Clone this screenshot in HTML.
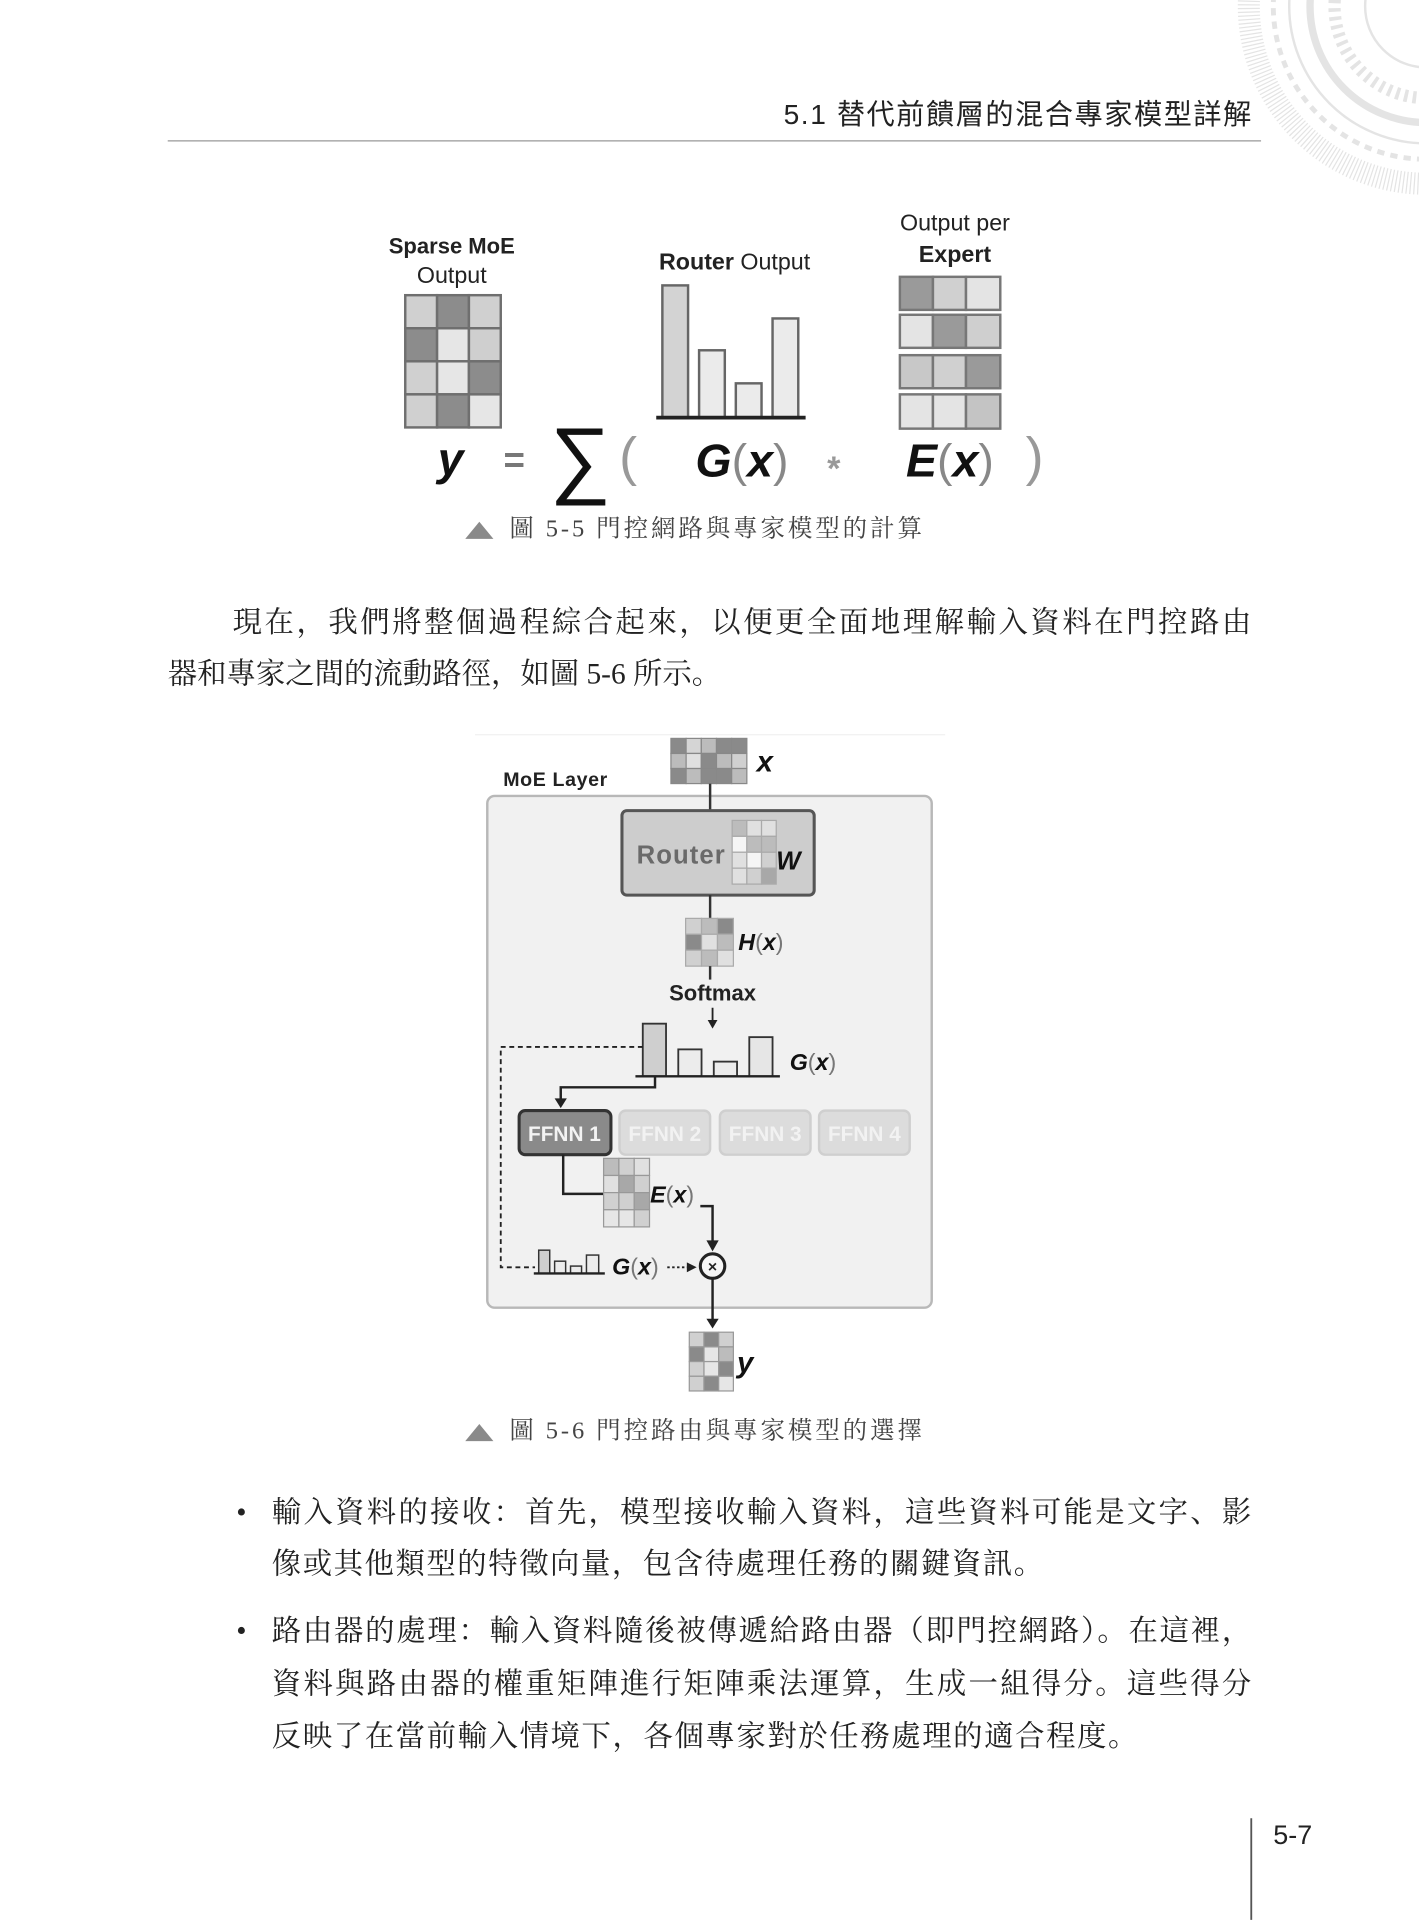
<!DOCTYPE html>
<html><head><meta charset="utf-8"><style>
html,body{margin:0;padding:0;background:#fff;width:1419px;height:1920px;overflow:hidden}
svg{display:block}
.cj{font-family:"Liberation Serif","Noto Serif CJK SC","Noto Sans CJK TC",serif;fill:#222}
.hd{font-family:"Liberation Sans","Noto Sans CJK TC",sans-serif;fill:#222}
.s{font-family:"Liberation Sans",sans-serif}
</style></head><body>
<svg width="1419" height="1920" viewBox="0 0 1159 1568" xmlns="http://www.w3.org/2000/svg">
<g fill="none" stroke="#e4e4e4">
<circle cx="1165" cy="5" r="50" stroke-width="2"/>
<circle cx="1165" cy="5" r="75" stroke-width="10" stroke-dasharray="3 4"/>
<circle cx="1165" cy="5" r="95" stroke-width="6"/>
<circle cx="1165" cy="5" r="112" stroke-width="2"/>
<circle cx="1165" cy="5" r="125" stroke-width="4" stroke-dasharray="6 5"/>
<circle cx="1165" cy="5" r="145" stroke-width="18" stroke-dasharray="1 2"/>
</g>
<text class="hd" x="640" y="101" font-size="23" textLength="382">5.1  替代前饋層的混合專家模型詳解</text>
<line x1="137" y1="115" x2="1030" y2="115" stroke="#999" stroke-width="1"/>

<g class="s" fill="#222">
<text x="369" y="207" font-size="18" font-weight="bold" text-anchor="middle">Sparse MoE</text>
<text x="369" y="231" font-size="19" text-anchor="middle">Output</text>
<text x="600" y="220" font-size="19" text-anchor="middle"><tspan font-weight="bold">Router</tspan> Output</text>
<text x="780" y="188" font-size="19" text-anchor="middle">Output per</text>
<text x="780" y="214" font-size="19" font-weight="bold" text-anchor="middle">Expert</text>
</g>
<g stroke="#6f6f6f" stroke-width="2">
<rect x="331" y="241" width="26" height="27" fill="#d0d0d0"/><rect x="357" y="241" width="26" height="27" fill="#8c8c8c"/><rect x="383" y="241" width="26" height="27" fill="#d0d0d0"/>
<rect x="331" y="268" width="26" height="27" fill="#8c8c8c"/><rect x="357" y="268" width="26" height="27" fill="#e6e6e6"/><rect x="383" y="268" width="26" height="27" fill="#cfcfcf"/>
<rect x="331" y="295" width="26" height="27" fill="#d0d0d0"/><rect x="357" y="295" width="26" height="27" fill="#e6e6e6"/><rect x="383" y="295" width="26" height="27" fill="#8c8c8c"/>
<rect x="331" y="322" width="26" height="27" fill="#d0d0d0"/><rect x="357" y="322" width="26" height="27" fill="#8c8c8c"/><rect x="383" y="322" width="26" height="27" fill="#e6e6e6"/>
</g>
<g stroke="#666" stroke-width="2">
<rect x="541" y="233" width="21" height="108" fill="#d3d3d3"/>
<rect x="571" y="286" width="21" height="55" fill="#ebebeb"/>
<rect x="601" y="313" width="21" height="28" fill="#ebebeb"/>
<rect x="631" y="260" width="21" height="81" fill="#ebebeb"/>
</g>
<line x1="536" y1="341" x2="658" y2="341" stroke="#222" stroke-width="3"/>
<g stroke="#777" stroke-width="2">
<rect x="735" y="226" width="27" height="27" fill="#9a9a9a"/><rect x="762" y="226" width="27" height="27" fill="#d0d0d0"/><rect x="789" y="226" width="28" height="27" fill="#e4e4e4"/>
<rect x="735" y="257" width="27" height="27" fill="#e4e4e4"/><rect x="762" y="257" width="27" height="27" fill="#9a9a9a"/><rect x="789" y="257" width="28" height="27" fill="#cfcfcf"/>
<rect x="735" y="290" width="27" height="27" fill="#c8c8c8"/><rect x="762" y="290" width="27" height="27" fill="#d0d0d0"/><rect x="789" y="290" width="28" height="27" fill="#9a9a9a"/>
<rect x="735" y="322" width="27" height="28" fill="#e4e4e4"/><rect x="762" y="322" width="27" height="28" fill="#e4e4e4"/><rect x="789" y="322" width="28" height="28" fill="#c4c4c4"/>
</g>
<g class="s" font-weight="bold" font-style="italic" fill="#111">
<text x="368" y="388" font-size="38" text-anchor="middle">y</text>
<text x="420" y="386" font-size="30" fill="#777" text-anchor="middle" font-style="normal">=</text>
<text x="474" y="398" font-size="70" font-weight="normal" font-style="normal" text-anchor="middle">∑</text>
<text x="513" y="388" font-size="44" font-weight="normal" font-style="normal" fill="#999" text-anchor="middle">(</text>
<text x="568" y="389" font-size="38">G<tspan font-weight="normal" font-style="normal" fill="#888">(</tspan>x<tspan font-weight="normal" font-style="normal" fill="#888">)</tspan></text>
<text x="681" y="392" font-size="28" fill="#999" font-style="normal" text-anchor="middle">*</text>
<text x="740" y="389" font-size="38">E<tspan font-weight="normal" font-style="normal" fill="#888">(</tspan>x<tspan font-weight="normal" font-style="normal" fill="#888">)</tspan></text>
<text x="845" y="388" font-size="44" font-weight="normal" font-style="normal" fill="#999" text-anchor="middle">)</text>
</g>
<polygon points="380,440 403,440 391.5,426" fill="#8a8a8a"/>
<text class="cj" x="416" y="438" font-size="20" textLength="337" style="fill:#444">圖 5-5  門控網路與專家模型的計算</text>

<text class="cj" x="190" y="516" font-size="24" textLength="832">現在，我們將整個過程綜合起來，以便更全面地理解輸入資料在門控路由</text>
<text class="cj" x="137" y="558" font-size="24" textLength="452">器和專家之間的流動路徑，如圖 5-6 所示。</text>

<line x1="388" y1="600" x2="772" y2="600" stroke="#f0f0f0"/>
<rect x="398" y="650" width="363" height="418" rx="6" fill="#f1f1f1" stroke="#b8b8b8" stroke-width="2"/>
<text class="s" x="411" y="642" font-size="16" font-weight="bold" fill="#222" textLength="85">MoE Layer</text>
<g stroke="#888" stroke-width="1">
<rect x="548" y="603" width="12.4" height="12.3" fill="#8a8a8a"/><rect x="560.4" y="603" width="12.4" height="12.3" fill="#d5d5d5"/><rect x="572.8" y="603" width="12.4" height="12.3" fill="#bcbcbc"/><rect x="585.2" y="603" width="12.4" height="12.3" fill="#8a8a8a"/><rect x="597.6" y="603" width="12.4" height="12.3" fill="#8a8a8a"/>
<rect x="548" y="615.3" width="12.4" height="12.3" fill="#bcbcbc"/><rect x="560.4" y="615.3" width="12.4" height="12.3" fill="#e0e0e0"/><rect x="572.8" y="615.3" width="12.4" height="12.3" fill="#8a8a8a"/><rect x="585.2" y="615.3" width="12.4" height="12.3" fill="#bcbcbc"/><rect x="597.6" y="615.3" width="12.4" height="12.3" fill="#d0d0d0"/>
<rect x="548" y="627.6" width="12.4" height="12.3" fill="#8a8a8a"/><rect x="560.4" y="627.6" width="12.4" height="12.3" fill="#bcbcbc"/><rect x="572.8" y="627.6" width="12.4" height="12.3" fill="#8a8a8a"/><rect x="585.2" y="627.6" width="12.4" height="12.3" fill="#8a8a8a"/><rect x="597.6" y="627.6" width="12.4" height="12.3" fill="#bcbcbc"/>
</g>
<text class="s" x="618" y="630" font-size="24" font-weight="bold" font-style="italic" fill="#111">x</text>
<line x1="580" y1="640" x2="580" y2="662" stroke="#333" stroke-width="2"/>
<rect x="508" y="662" width="157" height="69" rx="4" fill="#cdcdcd" stroke="#555" stroke-width="2.5"/>
<text class="s" x="520" y="705" font-size="21" font-weight="bold" fill="#6a6a6a" textLength="72">Router</text>
<g stroke="#aaa" stroke-width="1">
<rect x="598" y="670" width="12" height="13" fill="#bcbcbc"/><rect x="610" y="670" width="12" height="13" fill="#e0e0e0"/><rect x="622" y="670" width="12" height="13" fill="#e0e0e0"/>
<rect x="598" y="683" width="12" height="13" fill="#f5f5f5"/><rect x="610" y="683" width="12" height="13" fill="#bcbcbc"/><rect x="622" y="683" width="12" height="13" fill="#bcbcbc"/>
<rect x="598" y="696" width="12" height="13" fill="#e0e0e0"/><rect x="610" y="696" width="12" height="13" fill="#f5f5f5"/><rect x="622" y="696" width="12" height="13" fill="#d0d0d0"/>
<rect x="598" y="709" width="12" height="13" fill="#e0e0e0"/><rect x="610" y="709" width="12" height="13" fill="#d0d0d0"/><rect x="622" y="709" width="12" height="13" fill="#a8a8a8"/>
</g>
<text class="s" x="634" y="710" font-size="21" font-weight="bold" font-style="italic" fill="#111">W</text>
<line x1="580" y1="731" x2="580" y2="750" stroke="#333" stroke-width="2"/>
<g stroke="#aaa" stroke-width="1">
<rect x="560" y="750" width="13" height="13" fill="#d0d0d0"/><rect x="573" y="750" width="13" height="13" fill="#bcbcbc"/><rect x="586" y="750" width="13" height="13" fill="#8a8a8a"/>
<rect x="560" y="763" width="13" height="13" fill="#8a8a8a"/><rect x="573" y="763" width="13" height="13" fill="#e0e0e0"/><rect x="586" y="763" width="13" height="13" fill="#bcbcbc"/>
<rect x="560" y="776" width="13" height="13" fill="#d0d0d0"/><rect x="573" y="776" width="13" height="13" fill="#bcbcbc"/><rect x="586" y="776" width="13" height="13" fill="#e0e0e0"/>
</g>
<text class="s" x="603" y="776" font-size="19" font-weight="bold" font-style="italic" fill="#111">H<tspan font-weight="normal" font-style="normal" fill="#777">(</tspan>x<tspan font-weight="normal" font-style="normal" fill="#777">)</tspan></text>
<line x1="580" y1="789" x2="580" y2="800" stroke="#333" stroke-width="2"/>
<text class="s" x="582" y="817" font-size="18" font-weight="bold" fill="#222" text-anchor="middle">Softmax</text>
<line x1="582" y1="823" x2="582" y2="834" stroke="#222" stroke-width="1.5"/>
<polygon points="578,833 586,833 582,840" fill="#222"/>
<g stroke="#333" stroke-width="1.5">
<rect x="525" y="836" width="19" height="43" fill="#cfcfcf"/>
<rect x="554" y="857" width="19" height="22" fill="#ececec"/>
<rect x="583" y="867" width="19" height="12" fill="#ececec"/>
<rect x="612" y="847" width="19" height="32" fill="#e6e6e6"/>
</g>
<line x1="519" y1="879" x2="637" y2="879" stroke="#222" stroke-width="2"/>
<text class="s" x="645" y="874" font-size="19" font-weight="bold" font-style="italic" fill="#111">G<tspan font-weight="normal" font-style="normal" fill="#777">(</tspan>x<tspan font-weight="normal" font-style="normal" fill="#777">)</tspan></text>
<polyline points="525,855 409,855 409,1035 437,1035" fill="none" stroke="#222" stroke-width="1.5" stroke-dasharray="4 3"/>
<polyline points="535,879 535,888 458,888 458,898" fill="none" stroke="#222" stroke-width="2"/>
<polygon points="453,897 463,897 458,905" fill="#222"/>
<rect x="424" y="907" width="75" height="36" rx="5" fill="#8a8a8a" stroke="#333" stroke-width="2.5"/>
<text class="s" x="461" y="932" font-size="17" font-weight="bold" fill="#f3f3f3" text-anchor="middle">FFNN 1</text>
<g stroke="#cfcfcf" stroke-width="2" fill="#dcdcdc">
<rect x="506" y="907" width="74" height="36" rx="5"/><rect x="588" y="907" width="74" height="36" rx="5"/><rect x="669" y="907" width="74" height="36" rx="5"/>
</g>
<g class="s" font-size="17" font-weight="bold" fill="#f2f2f2" text-anchor="middle">
<text x="543" y="932">FFNN 2</text><text x="625" y="932">FFNN 3</text><text x="706" y="932">FFNN 4</text>
</g>
<polyline points="460,943 460,975 493,975" fill="none" stroke="#222" stroke-width="2"/>
<g stroke="#999" stroke-width="1">
<rect x="493" y="946" width="12.5" height="14" fill="#bcbcbc"/><rect x="505.5" y="946" width="12.5" height="14" fill="#d0d0d0"/><rect x="518" y="946" width="12.5" height="14" fill="#e0e0e0"/>
<rect x="493" y="960" width="12.5" height="14" fill="#e0e0e0"/><rect x="505.5" y="960" width="12.5" height="14" fill="#a8a8a8"/><rect x="518" y="960" width="12.5" height="14" fill="#d0d0d0"/>
<rect x="493" y="974" width="12.5" height="14" fill="#d0d0d0"/><rect x="505.5" y="974" width="12.5" height="14" fill="#d0d0d0"/><rect x="518" y="974" width="12.5" height="14" fill="#a8a8a8"/>
<rect x="493" y="988" width="12.5" height="14" fill="#e6e6e6"/><rect x="505.5" y="988" width="12.5" height="14" fill="#e6e6e6"/><rect x="518" y="988" width="12.5" height="14" fill="#d0d0d0"/>
</g>
<text class="s" x="531" y="982" font-size="19" font-weight="bold" font-style="italic" fill="#111">E<tspan font-weight="normal" font-style="normal" fill="#777">(</tspan>x<tspan font-weight="normal" font-style="normal" fill="#777">)</tspan></text>
<polyline points="572,985 582,985 582,1014" fill="none" stroke="#222" stroke-width="2"/>
<polygon points="577,1013 587,1013 582,1022" fill="#222"/>
<circle cx="582" cy="1034" r="10" fill="#f6f6f6" stroke="#222" stroke-width="2.5"/>
<text class="s" x="582" y="1039" font-size="13" font-weight="bold" fill="#222" text-anchor="middle">×</text>
<g stroke="#333" stroke-width="1.2">
<rect x="440" y="1021" width="9" height="19" fill="#cfcfcf"/>
<rect x="453" y="1030" width="9" height="10" fill="#ececec"/>
<rect x="466" y="1034" width="9" height="6" fill="#ececec"/>
<rect x="479" y="1025" width="10" height="15" fill="#ececec"/>
</g>
<line x1="436" y1="1040" x2="494" y2="1040" stroke="#222" stroke-width="2"/>
<text class="s" x="500" y="1041" font-size="19" font-weight="bold" font-style="italic" fill="#111">G<tspan font-weight="normal" font-style="normal" fill="#777">(</tspan>x<tspan font-weight="normal" font-style="normal" fill="#777">)</tspan></text>
<line x1="545" y1="1035" x2="563" y2="1035" stroke="#222" stroke-width="1.5" stroke-dasharray="2 2"/>
<polygon points="561,1031 561,1039 569,1035" fill="#222"/>
<line x1="582" y1="1044" x2="582" y2="1078" stroke="#222" stroke-width="2"/>
<polygon points="577,1077 587,1077 582,1085" fill="#222"/>
<g stroke="#999" stroke-width="1">
<rect x="563" y="1088" width="12" height="12" fill="#d0d0d0"/><rect x="575" y="1088" width="12" height="12" fill="#8a8a8a"/><rect x="587" y="1088" width="12" height="12" fill="#d0d0d0"/>
<rect x="563" y="1100" width="12" height="12" fill="#8a8a8a"/><rect x="575" y="1100" width="12" height="12" fill="#e6e6e6"/><rect x="587" y="1100" width="12" height="12" fill="#bcbcbc"/>
<rect x="563" y="1112" width="12" height="12" fill="#d0d0d0"/><rect x="575" y="1112" width="12" height="12" fill="#e6e6e6"/><rect x="587" y="1112" width="12" height="12" fill="#8a8a8a"/>
<rect x="563" y="1124" width="12" height="12" fill="#d0d0d0"/><rect x="575" y="1124" width="12" height="12" fill="#8a8a8a"/><rect x="587" y="1124" width="12" height="12" fill="#e6e6e6"/>
</g>
<text class="s" x="602" y="1121" font-size="24" font-weight="bold" font-style="italic" fill="#111">y</text>
<polygon points="380,1177 403,1177 391.5,1163" fill="#8a8a8a"/>
<text class="cj" x="416" y="1175" font-size="20" textLength="337" style="fill:#444">圖 5-6  門控路由與專家模型的選擇</text>

<g class="cj" font-size="24">
<text x="193" y="1243">•</text>
<text x="222" y="1243" textLength="800">輸入資料的接收：首先，模型接收輸入資料，這些資料可能是文字、影</text>
<text x="222" y="1285" textLength="630">像或其他類型的特徵向量，包含待處理任務的關鍵資訊。</text>
<text x="193" y="1340">•</text>
<text x="222" y="1340" textLength="800">路由器的處理：輸入資料隨後被傳遞給路由器（即門控網路）。在這裡，</text>
<text x="222" y="1383" textLength="800">資料與路由器的權重矩陣進行矩陣乘法運算，生成一組得分。這些得分</text>
<text x="222" y="1426" textLength="707">反映了在當前輸入情境下，各個專家對於任務處理的適合程度。</text>
</g>
<line x1="1022" y1="1485" x2="1022" y2="1568" stroke="#555" stroke-width="1.5"/>
<text class="hd" x="1040" y="1506" font-size="22">5-7</text>
</svg>
</body></html>
